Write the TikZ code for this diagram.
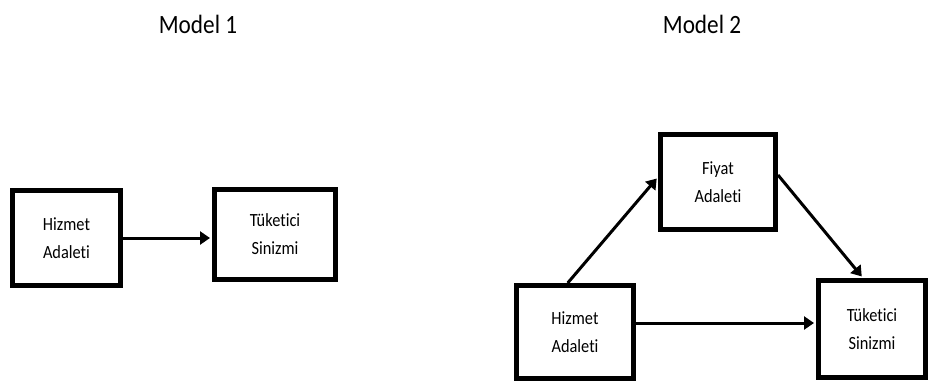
\documentclass[tikz,border=0pt]{standalone}
\usepackage{fontspec}
\setmainfont{Carlito}[FakeStretch=0.88,Ligatures=NoCommon]
\usepackage{tikz}
\usetikzlibrary{arrows.meta,calc,positioning}

\begin{document}
\begin{tikzpicture}[x=1pt,y=-1pt,
  box/.style={draw,line width=5pt,fill=white,align=center,inner sep=0pt,
    font=\fontsize{18.6}{28}\selectfont},
  title/.style={anchor=base,font=\fontsize{26.4}{30}\selectfont},
  link/.style={line width=3pt,shorten >=2pt,-{Triangle[length=10pt,width=13pt]}}]
\useasboundingbox (0,0) rectangle (928,381);
% Model 1
\node[title] (title1) at (198,33) {Model 1};
\node[box,minimum width=108pt,minimum height=95pt] (hiz1) at (66.5,238) {Hizmet\\Adaleti};
\node[box,minimum width=121pt,minimum height=90pt] (tuk1) at (275,234.5) {Tüketici\\Sinizmi};
\draw[link] (hiz1.east) -- (hiz1.east -| tuk1.west);
% Model 2
\node[title] (title2) at (702,33) {Model 2};
\node[box,minimum width=115pt,minimum height=95pt] (fiy) at (718,182) {Fiyat\\Adaleti};
\node[box,minimum width=117pt,minimum height=93pt] (hiz2) at (575,332) {Hizmet\\Adaleti};
\node[box,minimum width=107pt,minimum height=97pt] (tuk2) at (872,329) {Tüketici\\Sinizmi};
\coordinate (a) at ($(hiz2.north west)!0.44!(hiz2.north east)$);
\coordinate (b) at ($(fiy.north west)!0.45!(fiy.south west)$);
\coordinate (c) at ($(fiy.north east)!0.43!(fiy.south east)$);
\coordinate (d) at ($(tuk2.north west)!0.42!(tuk2.north east)$);
\draw[link] (a) -- (b);
\draw[link] (c) -- (d);
\draw[link] ([yshift=9pt]hiz2.east) -- ([yshift=9pt]hiz2.east -| tuk2.west);
\end{tikzpicture}
\end{document}
